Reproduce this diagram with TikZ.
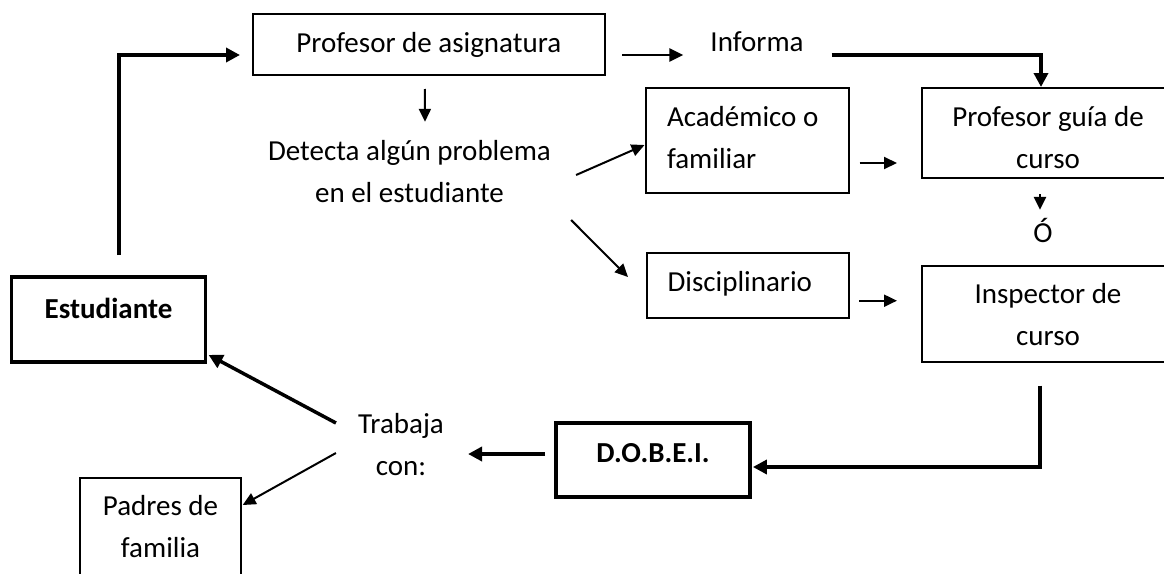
\documentclass[tikz,border=0pt]{standalone}
\usepackage{fontspec}
\setmainfont{Carlito}
\usetikzlibrary{arrows.meta,calc}
\begin{document}
\begin{tikzpicture}[x=1pt,y=-1pt,
  every node/.style={font=\fontsize{29}{42}\selectfont, inner sep=0pt},
  box/.style={draw, line width=2pt},
  bbox/.style={draw, line width=3.8pt, font=\fontsize{29}{42}\selectfont\bfseries},
  tarrow/.style={line width=2pt,-{Triangle[length=13pt,width=12pt]}},
  karrow/.style={line width=3.5pt,-{Triangle[length=14pt,width=14pt]}},
]
\useasboundingbox (0,0) rectangle (1164,573);
\fill[white] (0,0) rectangle (1164,573);

% boxes
\node[box, minimum width=352.4pt, minimum height=61pt, text height=20pt, text depth=5pt] (pa) at (428.8,44.5) {Profesor de asignatura};
\node[box, minimum width=203pt, minimum height=105pt, text width=161pt, align=flush left, inner xsep=21pt, text height=20pt, text depth=48pt] (ac) at (747.5,140.5) {Académico o\\familiar};
\node[box, minimum width=252pt, minimum height=90pt, align=center, text height=76pt, text depth=6pt] (pg) at (1048,133) {Profesor guía de\\curso};
\node[box, minimum width=202.4pt, minimum height=65pt, text width=160.4pt, align=flush left, inner xsep=21pt, text height=20pt, text depth=9pt] (di) at (747.8,285.5) {Disciplinario};
\node[box, minimum width=252pt, minimum height=96pt, align=center, text height=68.6pt, text depth=6pt] (in) at (1048,313.7) {Inspector de\\curso};
\node[bbox, minimum width=194pt, minimum height=85pt, text height=20pt, text depth=23pt] (es) at (108.5,319.5) {Estudiante};
\node[bbox, minimum width=194pt, minimum height=74pt, text height=20pt, text depth=16pt] (db) at (653,460) {D.O.B.E.I.};
\node[box, minimum width=161pt, minimum height=112pt, align=center, text height=62pt, text depth=16pt] (pf) at (160.5,534) {Padres de\\familia};

% plain texts
\node[align=center, text height=62pt, text depth=6pt] (dt) at (409.5,174) {Detecta algún problema\\en el estudiante};
\node[text height=20pt, text depth=6pt] (inf) at (757,44) {Informa};
\node[text height=20pt, text depth=6pt] (o) at (1043,235) {Ó};
\node[align=center, text height=62pt, text depth=6pt] (tc) at (401,447) {Trabaja\\con:};

% connectors
\draw[karrow] ($(es.north)+(10.5,-20)$) |- ($(pa.west)+(-11.6,10.5)$);
\draw[tarrow] ($(pa.south)+(-4,13)$) -- ($(dt.north)+(15.5,-18)$);
\draw[line width=2.7pt,-{Triangle[length=14pt,width=13pt]}] ($(pa.east)+(16,10.5)$) -- ($(inf.west)+(-27,11)$);
\draw[karrow] ($(inf.east)+(28,11)$) -| ($(pg.north)+(-7,0)$);
\draw[tarrow] ($(dt.east)+(25,1)$) -- ($(ac.west)+(-0.5,4.5)$);
\draw[tarrow] ($(dt.east)+(20,46)$) -- ($(di.west)+(-17.6,-8.5)$);
\draw[tarrow] ($(ac.east)+(9.5,22.5)$) -- ($(pg.west)+(-24,30)$);
\draw[tarrow] ($(di.east)+(9,15.2)$) -- ($(in.west)+(-24,-13)$);
\draw[line width=2.5pt,-{Triangle[length=13pt,width=12pt]}] ($(pg.south)+(-8,15)$) -- ($(o.north)+(-3,-12)$);
\draw[karrow] ($(in.south)+(-8,23)$) |- ($(db.east)+(1,7)$);
\draw[karrow] ($(db.west)+(-9,-6)$) -- ($(tc.east)+(24,7)$);
\draw[karrow] ($(tc.west)+(-22,-24)$) -- ($(es.south east)+(1.2,-9)$);
\draw[tarrow] ($(tc.west)+(-22,6)$) -- ($(pf.east)+(0.7,-29)$);
\end{tikzpicture}
\end{document}
